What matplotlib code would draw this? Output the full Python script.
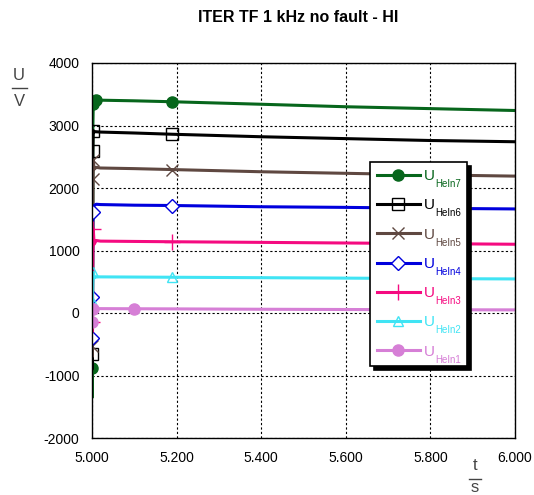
import matplotlib
matplotlib.use("Agg")
import matplotlib.pyplot as plt
from matplotlib.lines import Line2D
from matplotlib.ticker import FormatStrFormatter

plt.rcParams['font.family'] = ['Liberation Sans', 'DejaVu Sans']
plt.rcParams['axes.unicode_minus'] = False

t = [5.0000, 5.0005, 5.0010, 5.0020, 5.0030, 5.0050, 5.0100, 5.0200,
     5.1000, 5.1900, 5.4000, 5.6000, 5.8000, 6.0000]

heln7 = [0, -1350, -880, 2950, 3350, 3380, 3410, 3405, 3395, 3380, 3340, 3300, 3270, 3240]
heln6 = [0, -900, -650, 2590, 2920, 2900, 2900, 2895, 2880, 2860, 2820, 2790, 2760, 2740]
heln5 = [0, -700, -520, 2150, 2450, 2300, 2330, 2320, 2310, 2295, 2260, 2235, 2210, 2190]
heln4 = [0, -400, 250, 1620, 1700, 1720, 1740, 1735, 1725, 1720, 1700, 1690, 1675, 1665]
heln3 = [0, -300, -150, 950, 1350, 1100, 1160, 1150, 1145, 1140, 1130, 1120, 1110, 1100]
heln2 = [0, -200, 200, 450, 650, 560, 580, 578, 575, 572, 565, 558, 550, 545]
heln1 = [0, -150, -50, 60, 100, 70, 70, 70, 68, 66, 60, 56, 52, 50]

series = [
    ("HeIn7", heln7, '#07661c', dict(marker='o', mfc='#07661c', ms=8), [2, 4, 6, 9]),
    ("HeIn6", heln6, '#000000', dict(marker='s', mfc='none', ms=8, mew=1), [2, 3, 4, 9]),
    ("HeIn5", heln5, '#5f4841', dict(marker='x', ms=9, mew=1), [2, 3, 4, 9]),
    ("HeIn4", heln4, '#0000dd', dict(marker='D', mfc='white', ms=7, mew=1), [1, 2, 3, 9]),
    ("HeIn3", heln3, '#f50a80', dict(marker='+', ms=11, mew=1), [2, 4, 9]),
    ("HeIn2", heln2, '#40e4f4', dict(marker='^', mfc='none', ms=7, mew=1), [2, 4, 9]),
    ("HeIn1", heln1, '#d67fd6', dict(marker='o', mfc='#d67fd6', ms=8), [1, 3, 8]),
]

xticks = [5.0, 5.2, 5.4, 5.6, 5.8, 6.0]
yticks = [-2000, -1000, 0, 1000, 2000, 3000, 4000]

fig = plt.figure(figsize=(5.34, 4.95), dpi=100)
ax = fig.add_axes([92/534, 1-438/495, (515-92)/534, (438-63)/495])

handles = []
for name, vals, col, mk, me in series:
    ln, = ax.plot(t, vals, color=col, lw=2.2, mec=col, markevery=me, **mk)
    handles.append(ln)

ax.set_xlim(5.0, 6.0)
ax.set_ylim(-2000, 4000)
ax.set_xticks(xticks)
ax.set_yticks(yticks)
ax.xaxis.set_major_formatter(FormatStrFormatter('%.3f'))
ax.tick_params(length=0, labelsize=10, pad=9)
ax.grid(True, color='black', linestyle=(0, (2, 2)), linewidth=0.8)
for s in ax.spines.values():
    s.set_linewidth(1.0)

labels = ['U' for s in series]
leg = ax.legend(handles, labels, loc='upper left', mode='expand',
                bbox_to_anchor=((370-92)/423, (438-162)/375, (467-370)/423, 0),
                frameon=True, fancybox=False, framealpha=1, numpoints=1,
                edgecolor='black', handlelength=2.8, handletextpad=0.25,
                labelspacing=1.0, borderpad=0.46, borderaxespad=0,
                fontsize=11,
                shadow={'color': 'black', 'alpha': 1, 'ox': 3, 'oy': -3})
leg.get_frame().set_linewidth(1.2)
for txt, s in zip(leg.get_texts(), series):
    txt.set_color(s[2])
    ax.annotate(s[0], xy=(0, 0), xycoords=txt, xytext=(8.3, -4.3),
                textcoords='offset points', fontsize=7, color=s[2],
                ha='left', va='bottom', zorder=10)

fig.text(298/534, 1-18/495, 'ITER TF 1 kHz no fault - HI', ha='center', va='center',
         fontsize=11.5, fontweight='bold')

# y-axis label as fraction U/V
fig.text(19/534, 1-76/495, 'U', ha='center', va='center', fontsize=12, color='#444444')
fig.text(19/534, 1-101/495, 'V', ha='center', va='center', fontsize=12, color='#444444')
fig.add_artist(Line2D([12/534, 27/534], [1-88/495, 1-88/495], color='#444444', lw=1))

# x-axis label as fraction t/s
fig.text(475/534, 1-466/495, 't', ha='center', va='center', fontsize=12, color='#444444')
fig.text(475/534, 0.001, 's', ha='center', va='bottom', fontsize=12, color='#444444')
fig.add_artist(Line2D([469/534, 481/534], [1-479/495, 1-479/495], color='#444444', lw=1))

fig.savefig('out.png', dpi=100)
